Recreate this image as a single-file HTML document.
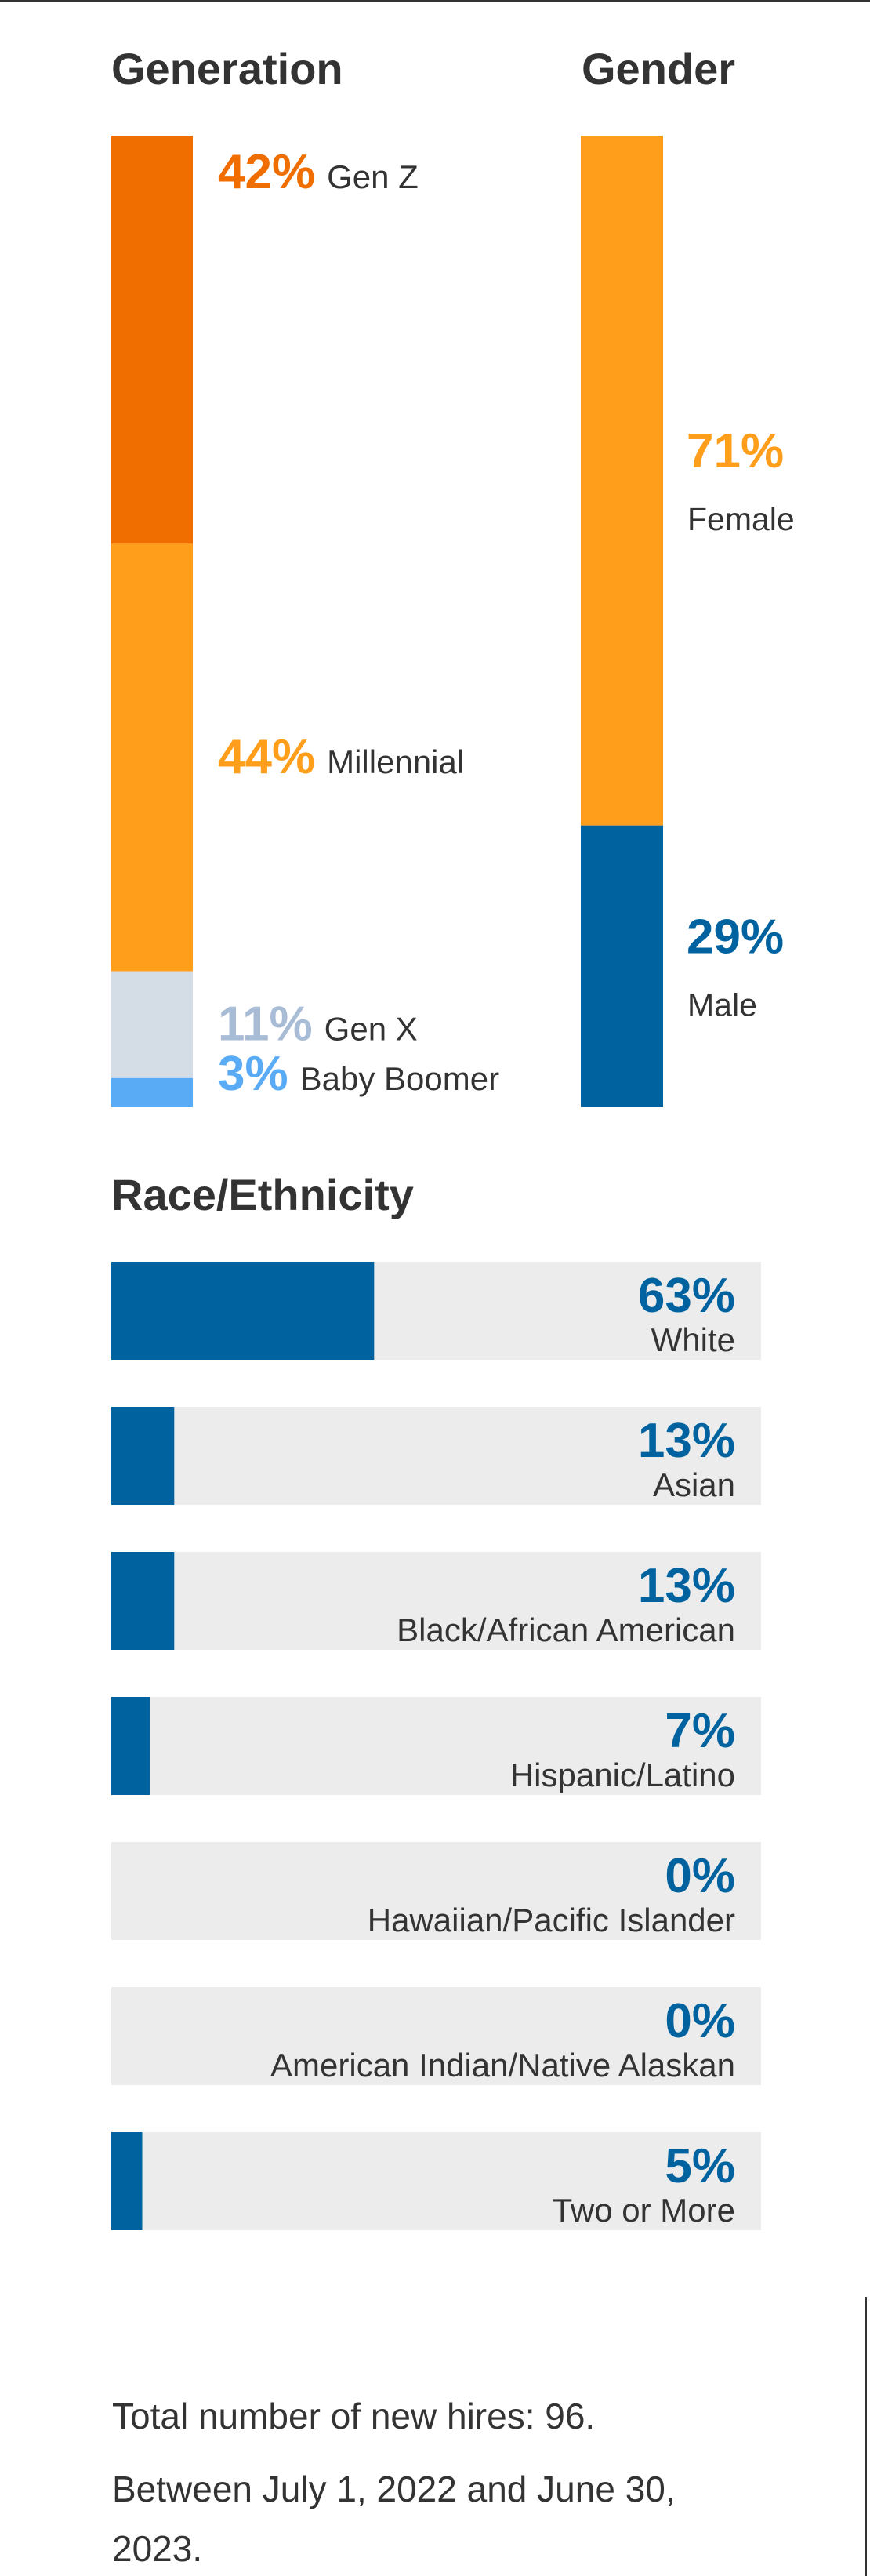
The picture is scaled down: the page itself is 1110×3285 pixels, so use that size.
<!DOCTYPE html>
<html><head><meta charset="utf-8">
<style>
html,body{margin:0;padding:0;background:#fff;}
svg{display:block;font-family:"Liberation Sans",Arial,sans-serif;}
</style></head>
<body>
<svg id="chart" width="1110" height="3285" viewBox="0 0 1110 3285">
  <rect x="0" y="0" width="1110" height="2" fill="#333"/>
  <rect x="1104" y="2929" width="2" height="356" fill="#333"/>
  <text x="142" y="107" font-size="56" font-weight="bold" fill="#333">Generation</text>
  <text x="742" y="107" font-size="56" font-weight="bold" fill="#333">Gender</text>
  <text x="142" y="1543" font-size="56" font-weight="bold" fill="#333">Race/Ethnicity</text>
  <g id="gen"></g>
  <g id="gender"></g>
  <g id="race"></g>
  <text x="143" y="3097" font-size="46" fill="#333">Total number of new hires: 96.</text>
  <text x="143" y="3190" font-size="46" fill="#333">Between July 1, 2022 and June 30,</text>
  <text x="143" y="3266" font-size="46" fill="#333">2023.</text>
</svg>
<script>
const genCategories = ["Gen Z","Millennial","Gen X","Baby Boomer"];
const genValues = [42,44,11,3];
const genColors = ["#f06e00","#ff9e1b","#d4dce6","#5aabf5"];
const genTextColors = ["#f06e00","#ff9e1b","#a9bcd6","#5aabf5"];
const genderCategories = ["Female","Male"];
const genderValues = [71,29];
const genderColors = ["#ff9e1b","#00629e"];
const raceCategories = ["White","Asian","Black/African American","Hispanic/Latino","Hawaiian/Pacific Islander","American Indian/Native Alaskan","Two or More"];
const raceValues = [63,13,13,7,0,0,5];

const NS="http://www.w3.org/2000/svg";
function mk(tag,attrs,parent,txt){const e=document.createElementNS(NS,tag);for(const k in attrs)e.setAttribute(k,attrs[k]);if(txt!=null)e.textContent=txt;parent.appendChild(e);return e;}
const colTop=173, colH=1239;
function yScale(v,total){return v/total*colH;}

// Generation
(function(){
  const g=document.getElementById('gen');
  const total=genValues.reduce((a,b)=>a+b,0);
  let y=colTop;
  genValues.forEach((v,i)=>{
    const h=yScale(v,total);
    const r=mk('rect',{x:142,y:y,width:104,height:h,fill:genColors[i]},g);
    
    
    let cy = i===0 ? y+47 : Math.min(y+h/2, colTop+colH-42);
    const t=mk('text',{x:278,y:cy+20,fill:genTextColors[i],'font-size':62,'font-weight':'bold'},g);
    
    
    mk('tspan',{},t,v+'%');
    mk('tspan',{dx:15,'font-size':42,'font-weight':'normal',fill:'#333'},t,genCategories[i]);
    y+=h;
  });
})();

// Gender
(function(){
  const g=document.getElementById('gender');
  const total=genderValues.reduce((a,b)=>a+b,0);
  let y=colTop;
  genderValues.forEach((v,i)=>{
    const h=yScale(v,total);
    const r=mk('rect',{x:741,y:y,width:105,height:h,fill:genderColors[i]},g);
    
    
    const mid=y+h/2;
    const p=mk('text',{x:876,y:mid-17,fill:genderColors[i],'font-size':62,'font-weight':'bold'},g,v+'%');
    
    
    const l=mk('text',{x:877,y:mid+63,fill:'#333','font-size':41},g,genderCategories[i]);
    
    
    y+=h;
  });
})();

// Race
(function(){
  const g=document.getElementById('race');
  const x0=142, W=829, top0=1609, pitch=185, rh=125;
  function xLen(v){return v>0 ? 14+5.1*v : 0;}
  raceValues.forEach((v,i)=>{
    const top=top0+i*pitch;
    const slug=raceCategories[i].toLowerCase().replace(/[^a-z]+/g,'-');
    const bg=mk('rect',{x:x0,y:top,width:W,height:rh,fill:'#ececec'},g);
    
    
    const b=mk('rect',{x:x0,y:top,width:xLen(v),height:rh,fill:'#00629e'},g);
    
    
    const p=mk('text',{x:938,y:top+64,'text-anchor':'end',fill:'#00629e','font-size':62,'font-weight':'bold'},g,v+'%');
    
    
    const l=mk('text',{x:938,y:top+114,'text-anchor':'end',fill:'#333','font-size':42},g,raceCategories[i]);
    
    
  });
})();
</script>
</body></html>
